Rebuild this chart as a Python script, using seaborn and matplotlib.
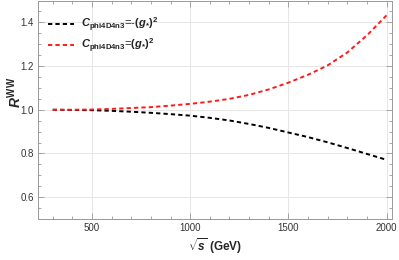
import matplotlib
matplotlib.use("Agg")
import matplotlib.pyplot as plt
import seaborn as sns
import pandas as pd
from matplotlib.ticker import MultipleLocator

sns.set_theme(style="white")
plt.rcParams['font.family'] = ['Liberation Sans', 'DejaVu Sans']
plt.rcParams['mathtext.fontset'] = 'custom'
plt.rcParams['mathtext.rm'] = 'Liberation Sans:bold'
plt.rcParams['mathtext.it'] = 'Liberation Sans:bold:italic'
plt.rcParams['mathtext.bf'] = 'Liberation Sans:bold'

sqrt_s = [300, 400, 500, 600, 700, 800, 900, 1000, 1100, 1200, 1300, 1400,
          1500, 1600, 1700, 1800, 1900, 2000]
r_minus = [1.0, 0.999, 0.998, 0.995, 0.991, 0.986, 0.980, 0.973, 0.963, 0.951,
           0.935, 0.917, 0.896, 0.875, 0.851, 0.825, 0.798, 0.771]
r_plus = [1.0, 1.0, 1.001, 1.004, 1.008, 1.012, 1.019, 1.027, 1.037, 1.050,
          1.068, 1.093, 1.124, 1.160, 1.203, 1.262, 1.340, 1.432]

labels = [r"$C_{\mathrm{phi4D4n3}}$=-$(g_{*})^{2}$",
          r"$C_{\mathrm{phi4D4n3}}$=$(g_{*})^{2}$"]

df = pd.concat([
    pd.DataFrame({"x": sqrt_s, "y": r_minus, "case": labels[0]}),
    pd.DataFrame({"x": sqrt_s, "y": r_plus, "case": labels[1]}),
])

fig = plt.figure(figsize=(3.99, 2.60), dpi=100)
ax = fig.add_axes([38/399, 1 - 219/260, (392-38)/399, 219/260 - 0.002])

sns.lineplot(data=df, x="x", y="y", hue="case", palette=["black", "#ff1a1a"],
             ax=ax, linewidth=1.4, legend=True)
for ln in ax.get_lines():
    ln.set_dashes([2.2, 1.6])

ax.set_xlim(225, 2028)
ax.set_ylim(0.5, 1.5)
ax.xaxis.set_major_locator(MultipleLocator(500))
ax.xaxis.set_minor_locator(MultipleLocator(100))
ax.yaxis.set_minor_locator(MultipleLocator(0.05))
ax.set_yticks([0.6, 0.8, 1.0, 1.2, 1.4])
ax.set_yticklabels(["0.6", "0.8", "1.0", "1.2", "1.4"])
ax.grid(True, which="major", color="#e6e6e6", linewidth=0.7)
for s in ax.spines.values():
    s.set_color("#999999")
    s.set_linewidth(0.7)
ax.tick_params(which="both", direction="in", bottom=True, left=True,
               top=True, right=True, color="#999999", labelsize=7,
               labelcolor="#333333", width=0.6)
ax.tick_params(which="major", length=4)
ax.tick_params(which="minor", length=2.2)
ax.tick_params(axis="both", pad=3)

ax.set_xlabel(r"$\sqrt{s}$ (GeV)", fontsize=8.5, fontweight="bold", labelpad=2)
ax.set_ylabel(r"$R^{\mathrm{WW}}$", fontsize=10, labelpad=1)
ax.yaxis.set_label_coords(-0.04, 0.58)

leg = ax.legend(loc="upper left", frameon=False, fontsize=8,
                bbox_to_anchor=(0.0, 0.975), handlelength=2.3, handletextpad=0.7,
                labelspacing=0.25)
for t in leg.get_texts():
    t.set_color("#222222")
for h in leg.get_lines():
    h.set_dashes([2.2, 1.6])

fig.savefig("out.png", dpi=100)
